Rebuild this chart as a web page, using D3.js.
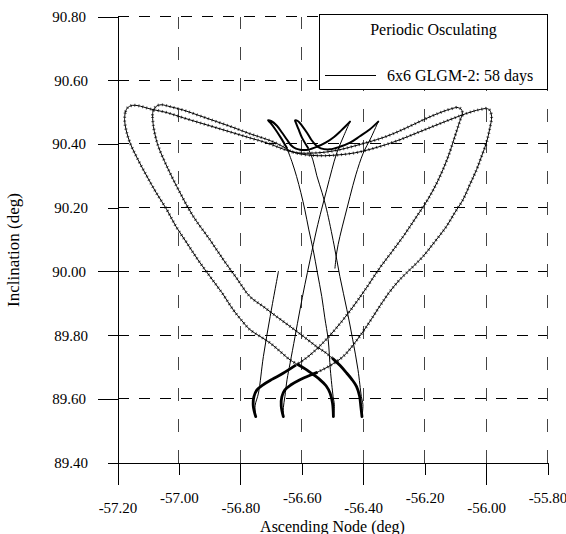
<!DOCTYPE html>
<html>
<head>
<meta charset="utf-8">
<script src="https://cdn.jsdelivr.net/npm/d3@7"></script>
<style>
  body { margin: 0; background: #fff; }
  svg { display: block; font-family: "Liberation Serif", "Times New Roman", serif; }
</style>
</head>
<body>
<div id="chart"></div>
<script>
'use strict';

// axis ticks
const xTicks = [-57.2, -57.0, -56.8, -56.6, -56.4, -56.2, -56.0, -55.8];
const yTicks = [89.4, 89.6, 89.8, 90.0, 90.2, 90.4, 90.6, 90.8];

const legendTitle = 'Periodic Osculating';
const seriesName = '6x6 GLGM-2: 58 days';

// track, [node, inclination], in order of time
const startLeg = [[-56.676, 90.000], [-56.703, 89.858], [-56.725, 89.733], [-56.741, 89.618], [-56.752, 89.578], [-56.750, 89.544]];
const hookLeftA = [[-56.750, 89.544], [-56.758, 89.578], [-56.756, 89.606], [-56.746, 89.628], [-56.726, 89.644], [-56.697, 89.661], [-56.661, 89.680], [-56.622, 89.704]];
const riseA = [[-56.622, 89.704], [-56.580, 89.732], [-56.541, 89.766], [-56.492, 89.817], [-56.443, 89.876], [-56.394, 89.942], [-56.346, 90.011], [-56.307, 90.061], [-56.268, 90.112], [-56.229, 90.168], [-56.190, 90.225], [-56.157, 90.284], [-56.125, 90.356], [-56.102, 90.422], [-56.086, 90.470], [-56.077, 90.498], [-56.082, 90.510], [-56.096, 90.515]];
const topA = [[-56.096, 90.515], [-56.134, 90.504], [-56.183, 90.485], [-56.232, 90.463], [-56.281, 90.441], [-56.329, 90.422], [-56.378, 90.407], [-56.427, 90.394], [-56.476, 90.382], [-56.525, 90.374], [-56.573, 90.371], [-56.616, 90.372], [-56.655, 90.382], [-56.713, 90.403], [-56.769, 90.419], [-56.824, 90.435], [-56.879, 90.451], [-56.931, 90.466], [-56.986, 90.482], [-57.038, 90.498], [-57.094, 90.510], [-57.133, 90.520], [-57.152, 90.521], [-57.168, 90.513], [-57.175, 90.498]];
const fallA = [[-57.175, 90.498], [-57.177, 90.476], [-57.172, 90.444], [-57.159, 90.403], [-57.133, 90.350], [-57.104, 90.298], [-57.074, 90.247], [-57.039, 90.193], [-57.009, 90.140], [-56.974, 90.089], [-56.938, 90.036], [-56.899, 89.984], [-56.860, 89.933], [-56.823, 89.879], [-56.795, 89.845], [-56.769, 89.817], [-56.736, 89.796], [-56.703, 89.775], [-56.671, 89.749], [-56.638, 89.722], [-56.612, 89.707]];
const hookRightA = [[-56.612, 89.707], [-56.584, 89.691], [-56.564, 89.677], [-56.541, 89.660], [-56.521, 89.641], [-56.508, 89.618], [-56.500, 89.587], [-56.497, 89.544]];
const climbA = [[-56.497, 89.544], [-56.494, 89.581], [-56.498, 89.607], [-56.507, 89.691], [-56.514, 89.785], [-56.525, 89.854], [-56.535, 89.921], [-56.549, 89.995], [-56.563, 90.068], [-56.577, 90.130], [-56.590, 90.193], [-56.603, 90.247], [-56.617, 90.298], [-56.632, 90.344], [-56.649, 90.388]];
const lensA = [[-56.649, 90.388], [-56.668, 90.419], [-56.687, 90.447], [-56.702, 90.466], [-56.710, 90.474], [-56.700, 90.472], [-56.681, 90.457], [-56.664, 90.435], [-56.648, 90.413], [-56.635, 90.396], [-56.619, 90.385], [-56.606, 90.382], [-56.580, 90.382], [-56.551, 90.391], [-56.521, 90.405], [-56.495, 90.422], [-56.473, 90.441], [-56.456, 90.457], [-56.443, 90.470]];
const dropA = [[-56.443, 90.470], [-56.463, 90.426], [-56.486, 90.372], [-56.502, 90.319], [-56.519, 90.256], [-56.536, 90.193], [-56.552, 90.130], [-56.573, 90.036], [-56.590, 89.958], [-56.606, 89.879], [-56.622, 89.795], [-56.638, 89.712], [-56.648, 89.660], [-56.655, 89.607], [-56.660, 89.572], [-56.660, 89.544]];
const hookLeftB = [[-56.660, 89.544], [-56.667, 89.578], [-56.665, 89.606], [-56.655, 89.628], [-56.635, 89.644], [-56.606, 89.660], [-56.573, 89.674], [-56.552, 89.682]];
const riseB = [[-56.552, 89.682], [-56.508, 89.704], [-56.465, 89.733], [-56.427, 89.776], [-56.389, 89.827], [-56.352, 89.882], [-56.316, 89.933], [-56.281, 89.974], [-56.242, 90.011], [-56.205, 90.047], [-56.167, 90.093], [-56.129, 90.141], [-56.102, 90.184], [-56.075, 90.225], [-56.053, 90.272], [-56.031, 90.319], [-56.014, 90.363], [-55.999, 90.403], [-55.988, 90.448], [-55.982, 90.485], [-55.988, 90.506], [-55.999, 90.512]];
const topB = [[-55.999, 90.512], [-56.037, 90.504], [-56.086, 90.488], [-56.134, 90.470], [-56.183, 90.451], [-56.232, 90.432], [-56.281, 90.413], [-56.329, 90.397], [-56.378, 90.383], [-56.427, 90.372], [-56.476, 90.366], [-56.525, 90.363], [-56.567, 90.364], [-56.606, 90.369], [-56.638, 90.378], [-56.660, 90.391], [-56.687, 90.404], [-56.716, 90.415], [-56.769, 90.432], [-56.824, 90.452], [-56.877, 90.470], [-56.931, 90.488], [-56.985, 90.506], [-57.029, 90.517], [-57.058, 90.523], [-57.074, 90.518], [-57.084, 90.504], [-57.086, 90.485]];
const fallB = [[-57.086, 90.485], [-57.083, 90.455], [-57.076, 90.422], [-57.067, 90.392], [-57.039, 90.329], [-56.996, 90.246], [-56.953, 90.172], [-56.899, 90.099], [-56.855, 90.036], [-56.811, 89.977], [-56.769, 89.921], [-56.726, 89.890], [-56.682, 89.858], [-56.638, 89.827], [-56.595, 89.796], [-56.552, 89.764], [-56.521, 89.744], [-56.499, 89.726]];
const hookRightB = [[-56.499, 89.726], [-56.476, 89.705], [-56.454, 89.681], [-56.437, 89.661], [-56.422, 89.639], [-56.412, 89.609], [-56.408, 89.578], [-56.404, 89.544]];
const climbB = [[-56.404, 89.544], [-56.401, 89.581], [-56.406, 89.607], [-56.417, 89.691], [-56.434, 89.785], [-56.453, 89.879], [-56.476, 89.984], [-56.495, 90.083], [-56.519, 90.193], [-56.534, 90.247], [-56.551, 90.300], [-56.564, 90.350], [-56.580, 90.388]];
const lensB = [[-56.580, 90.388], [-56.599, 90.419], [-56.611, 90.447], [-56.619, 90.466], [-56.622, 90.474], [-56.613, 90.472], [-56.599, 90.457], [-56.583, 90.435], [-56.569, 90.413], [-56.554, 90.396], [-56.538, 90.386], [-56.508, 90.383], [-56.476, 90.391], [-56.443, 90.404], [-56.411, 90.424], [-56.378, 90.446], [-56.351, 90.470]];
const dropB = [[-56.351, 90.470], [-56.375, 90.419], [-56.400, 90.371], [-56.424, 90.303], [-56.443, 90.235], [-56.460, 90.171], [-56.476, 90.109], [-56.486, 90.061], [-56.492, 90.010]];

drawChart('#chart');

function drawChart(el) {
  const width = 566;
  const height = 534;
  const left = 117.5;
  const right = 547.5;
  const top = 16.5;
  const bottom = 462.5;

  const svg = d3.select(el)
    .append('svg')
    .attr('width', width)
    .attr('height', height);

  const scaleX = d3.scaleLinear().domain([-57.2, -55.8]).range([left, right]);
  const scaleY = d3.scaleLinear().domain([89.4, 90.8]).range([bottom, top]);
  const fmt = d => d.toFixed(2);

  // dashed grid
  const grid = svg.append('g').attr('shape-rendering', 'crispEdges')
    .attr('stroke', '#000').attr('stroke-width', 1);
  grid.selectAll('.gy')
    .data(yTicks.slice(1))
    .enter().append('line')
    .attr('x1', left).attr('x2', right)
    .attr('y1', d => scaleY(d)).attr('y2', d => scaleY(d))
    .attr('stroke-dasharray', '11,10');
  grid.selectAll('.gx')
    .data(xTicks.slice(1))
    .enter().append('line')
    .attr('x1', d => scaleX(d)).attr('x2', d => scaleX(d))
    .attr('y1', bottom).attr('y2', top)
    .attr('stroke', '#444')
    .attr('stroke-dasharray', '13,18');

  // trajectory, drawn piece by piece so the slow turns look heavier
  const line = d3.line()
    .x(d => scaleX(d[0]))
    .y(d => scaleY(d[1]))
    .curve(d3.curveCatmullRom.alpha(0.5));

  const pieces = [
    [startLeg, 'thin'], [hookLeftA, 'heavy'], [riseA, 'wavy'], [topA, 'wavy'],
    [fallA, 'wavy'], [hookRightA, 'heavy'], [climbA, 'thin'], [lensA, 'bold'],
    [dropA, 'thin'], [hookLeftB, 'heavy'], [riseB, 'wavy'], [topB, 'wavy'],
    [fallB, 'wavy'], [hookRightB, 'heavy'], [climbB, 'thin'], [lensB, 'bold'],
    [dropB, 'thin']
  ];
  const strokeW = { thin: 1, wavy: 1, bold: 2, heavy: 2.8 };

  const track = svg.append('g');
  track.selectAll('path.base')
    .data(pieces)
    .enter().append('path')
    .attr('class', 'base')
    .attr('d', d => line(d[0]))
    .attr('fill', 'none')
    .attr('stroke', '#000')
    .attr('stroke-width', d => strokeW[d[1]])
    .attr('stroke-linejoin', 'round')
    .attr('stroke-linecap', 'round');

  // the short-period ripple on the slow arcs: a ribbed stroke on top
  track.selectAll('path.ripple')
    .data(pieces.filter(p => p[1] === 'wavy'))
    .enter().append('path')
    .attr('class', 'ripple')
    .attr('d', d => line(d[0]))
    .attr('fill', 'none')
    .attr('stroke', '#000')
    .attr('stroke-opacity', 0.6)
    .attr('stroke-width', 3)
    .attr('stroke-dasharray', '1.2,2.8');

  // x axis, staggered labels
  const xAxis = d3.axisBottom(scaleX)
    .tickValues(xTicks)
    .tickFormat(fmt)
    .tickSizeOuter(0);
  const gx = svg.append('g')
    .attr('transform', `translate(0, ${bottom})`)
    .call(xAxis);
  gx.selectAll('.tick line').attr('y2', (d, i) => i % 2 ? 12 : 22);
  gx.selectAll('.tick text')
    .attr('y', (d, i) => i % 2 ? 40 : 50.5)
    .attr('dy', 0);

  // y axis
  const yAxis = d3.axisLeft(scaleY)
    .tickValues(yTicks)
    .tickFormat(fmt)
    .tickSizeOuter(0);
  const gy = svg.append('g')
    .attr('transform', `translate(${left}, 0)`)
    .call(yAxis);
  gy.selectAll('.tick line').attr('x2', (d, i) => i % 2 ? -20 : -10);
  gy.selectAll('.tick text')
    .attr('x', (d, i) => i % 2 ? -31.5 : -29.5)
    .attr('dy', '0.33em');

  svg.selectAll('.domain').attr('stroke', '#000').attr('shape-rendering', 'crispEdges');
  svg.selectAll('.tick line').attr('stroke', '#000').attr('shape-rendering', 'crispEdges');
  svg.selectAll('.tick text')
    .attr('font-family', '"Liberation Serif", serif')
    .attr('font-size', 15)
    .attr('fill', '#000');

  // axis titles
  svg.append('text')
    .attr('x', (left + right) / 2)
    .attr('y', 531.5)
    .attr('text-anchor', 'middle')
    .attr('font-size', 16)
    .text('Ascending Node (deg)');

  svg.append('text')
    .attr('transform', 'translate(19, 250) rotate(-90)')
    .attr('text-anchor', 'middle')
    .attr('font-size', 17)
    .text('Inclination (deg)');

  // legend
  const lg = svg.append('g');
  lg.append('rect')
    .attr('x', 319.5).attr('y', 14.5)
    .attr('width', 228).attr('height', 75)
    .attr('fill', '#fff')
    .attr('stroke', '#000')
    .attr('shape-rendering', 'crispEdges');
  lg.append('text')
    .attr('x', 433.5).attr('y', 35)
    .attr('text-anchor', 'middle')
    .attr('font-size', 16)
    .text(legendTitle);
  lg.append('line')
    .attr('x1', 325).attr('x2', 376)
    .attr('y1', 75.5).attr('y2', 75.5)
    .attr('stroke', '#000');
  lg.append('text')
    .attr('x', 387).attr('y', 80.5)
    .attr('font-size', 16)
    .text(seriesName);
}
</script>
</body>
</html>
